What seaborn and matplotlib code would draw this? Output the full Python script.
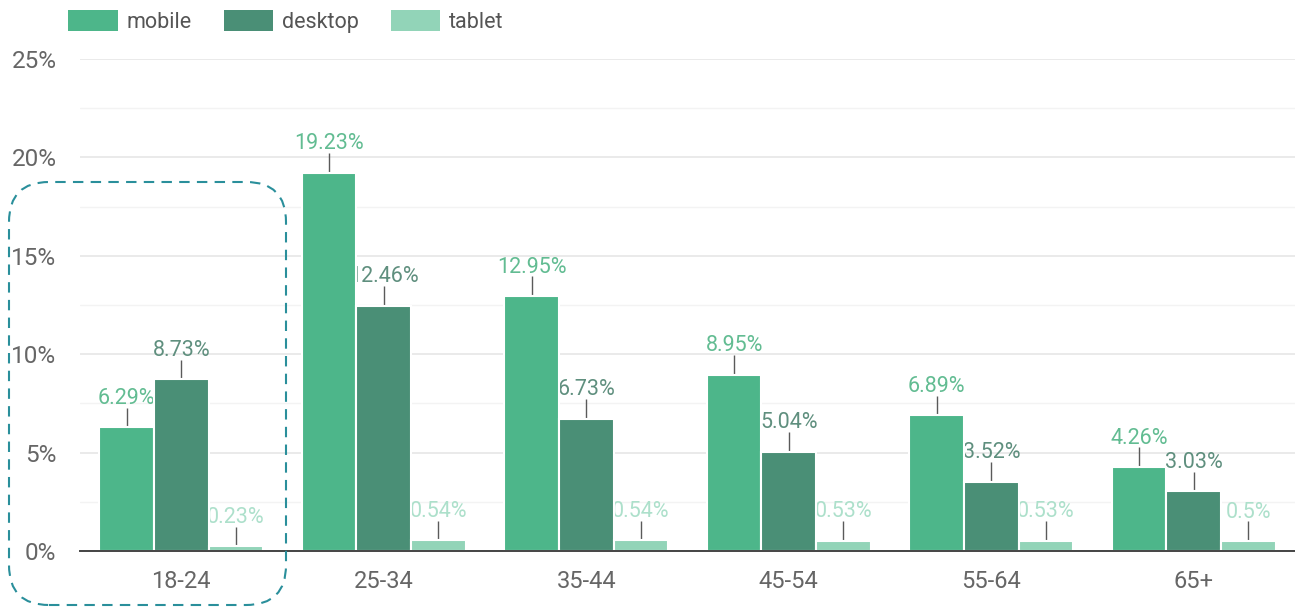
import numpy as np
import pandas as pd
import seaborn as sns
import matplotlib.pyplot as plt
from matplotlib.patches import FancyBboxPatch, Patch
from matplotlib.transforms import IdentityTransform
from matplotlib.ticker import MultipleLocator, FuncFormatter

# Share of users by age group and device (%)
age_groups = ["18-24", "25-34", "35-44", "45-54", "55-64", "65+"]
mobile = [6.29, 19.23, 12.95, 8.95, 6.89, 4.26]
desktop = [8.73, 12.46, 6.73, 5.04, 3.52, 3.03]
tablet = [0.23, 0.54, 0.54, 0.53, 0.53, 0.5]
devices = ["mobile", "desktop", "tablet"]

bar_colors = {"mobile": "#4db68a", "desktop": "#4a8f76", "tablet": "#92d4b8"}
label_colors = {"mobile": "#62bc92", "desktop": "#5f8f7e", "tablet": "#ade0cb"}

df = pd.DataFrame({
    "age": age_groups * 3,
    "device": np.repeat(devices, len(age_groups)),
    "share": mobile + desktop + tablet,
})

sns.set_theme(style="white")
plt.rcParams["font.family"] = ["Roboto", "DejaVu Sans"]

W, H, DPI = 1295, 608, 100
fig = plt.figure(figsize=(W / DPI, H / DPI), dpi=DPI)
ax = fig.add_axes([80 / W, 57 / H, 1 - 80 / W, (551 - 59) / H])

sns.barplot(data=df, x="age", y="share", hue="device", order=age_groups,
            hue_order=devices, palette=bar_colors, saturation=1, width=0.81,
            edgecolor="white", linewidth=1.5, ax=ax, legend=False)

ax.set_ylim(0, 25)
ax.set_xlim(-0.5, len(age_groups) - 0.5)
ax.yaxis.set_major_locator(MultipleLocator(5))
ax.yaxis.set_minor_locator(MultipleLocator(2.5))
ax.yaxis.set_major_formatter(FuncFormatter(lambda v, _: f"{v:.0f}%"))
ax.set_axisbelow(True)
ax.grid(axis="y", which="major", color="#e4e4e4", linewidth=1.1, zorder=0)
ax.grid(axis="y", which="minor", color="#f3f3f3", linewidth=1.0, zorder=0)
ax.grid(axis="x", visible=False)
ax.set_xlabel("")
ax.set_ylabel("")
for side in ("top", "right", "left"):
    ax.spines[side].set_visible(False)
ax.spines["bottom"].set_color("#444444")
ax.spines["bottom"].set_linewidth(1.4)
ax.spines["bottom"].set_zorder(5)
ax.tick_params(axis="y", which="both", length=0, pad=17, labelsize=17.5,
               labelcolor="#666666")
ax.tick_params(axis="x", length=0, pad=14, labelsize=17, labelcolor="#666666")

# Value labels with short leader lines; labels sit behind the bars
for container, dev in zip(ax.containers, devices):
    for bar in container:
        h = bar.get_height()
        xc = bar.get_x() + bar.get_width() / 2
        bar.set_zorder(3)
        ax.plot([xc, xc], [h, h + 1.0], color="#5a5a5a", linewidth=1.0,
                zorder=2, solid_capstyle="butt")
        txt = f"{h:g}%"
        ax.text(xc, h + 1.2, txt, ha="center", va="baseline", fontsize=15.5,
                color=label_colors[dev], zorder=1)

# Legend across the top
handles = [Patch(facecolor=bar_colors[d], edgecolor="none", label=d) for d in devices]
fig.legend(handles=handles, loc="upper left", bbox_to_anchor=(68 / W, 1 - 10 / H),
           ncol=3, frameon=False, fontsize=15.5, labelcolor="#555555",
           handlelength=2.3, handleheight=1.1, handletextpad=0.4,
           columnspacing=1.5, borderpad=0, borderaxespad=0)

# Highlight frame around the youngest age group
frame = FancyBboxPatch((9, 3), 277, 423, boxstyle="round,pad=0,rounding_size=40",
                       transform=IdentityTransform(), fill=False,
                       edgecolor="#2a8f9b", linewidth=1.5, linestyle=(0, (5, 3.5)))
fig.patches.append(frame)

fig.savefig("out.png", dpi=DPI)
